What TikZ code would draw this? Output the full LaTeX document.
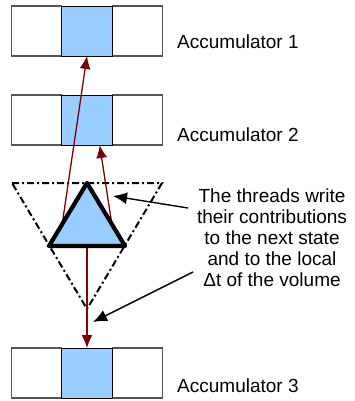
\documentclass[tikz,border=0pt]{standalone}
\usepackage{fontspec}
\setmainfont{Liberation Sans}
\usetikzlibrary{arrows.meta,calc}
\definecolor{cellblue}{RGB}{153,204,255}
\definecolor{flowred}{RGB}{128,0,0}
\definecolor{edgegray}{RGB}{85,85,85}
\tikzset{cell/.style={draw=edgegray, line width=1.2pt, minimum width=50.7pt, minimum height=50pt, inner sep=0, outer sep=0}}
\tikzset{hotcell/.style={cell, draw=black, line width=0.9pt, fill=cellblue}}
\tikzset{arr/.style={draw, -{Latex[length=14pt,width=12pt]}, line width=1.4pt}}
\tikzset{flow/.style={draw, -{Latex[length=13pt,width=11pt]}, line width=1.3pt, flowred}}
\tikzset{accname/.style={anchor=base west, inner sep=0, font=\fontsize{19}{21}\selectfont}}
\tikzset{note/.style={align=center, inner sep=0, font=\fontsize{19}{21}\selectfont}}

\begin{document}
\begin{tikzpicture}[x=1pt, y=-1pt]
	\useasboundingbox (0,0) rectangle (355,401);

	% accumulators, the middle cell is the one being written
	\node[cell] (acc1l) at (36.5,31) {};
	\node[cell] (acc1r) at (137.5,31) {};
	\node[hotcell] (acc1) at (87,31) {};
	\node[accname] at (177,49) {Accumulator 1};

	\node[cell] (acc2l) at (36.5,120) {};
	\node[cell] (acc2r) at (137.5,120) {};
	\node[hotcell] (acc2) at (87,120) {};
	\node[accname] at (177,141) {Accumulator 2};

	\node[cell] (acc3l) at (36.5,373) {};
	\node[cell] (acc3r) at (137.5,373) {};
	\node[hotcell] (acc3) at (87,373) {};
	\node[accname] at (177,392) {Accumulator 3};

	% the thread block
	\coordinate (top) at (87,183);
	\coordinate (bl) at (49,246);
	\coordinate (br) at (125,246);
	\coordinate (base) at (87,246);
	\coordinate (sl) at (62.5,222);
	\coordinate (sr) at (111.5,222);

	% region of the volume it covers
	\draw[line width=2pt, dash pattern=on 7pt off 3pt on 2pt off 3pt]
		(12,183) -- (162,183) -- (87,309) -- cycle;

	\draw[flow] (sl) -- (acc1.south);
	\draw[flow] (sr) -- ($(acc2.south)!0.5!(acc2.south east)$);
	\draw[flow] (base) -- (acc3.north);

	\draw[line width=4.2pt, line join=round, fill=cellblue] (top) -- (bl) -- (br) -- cycle;

	\node[note] (note) at (272,238) {The threads write\\their contributions\\to the next state\\and to the local\\Δt of the volume};

	\coordinate (w1) at (188,208);
	\coordinate (w2) at (193,272);
	\draw[arr] (w1) -- (113,196);
	\draw[arr] (w2) -- (93,322);
\end{tikzpicture}
\end{document}
